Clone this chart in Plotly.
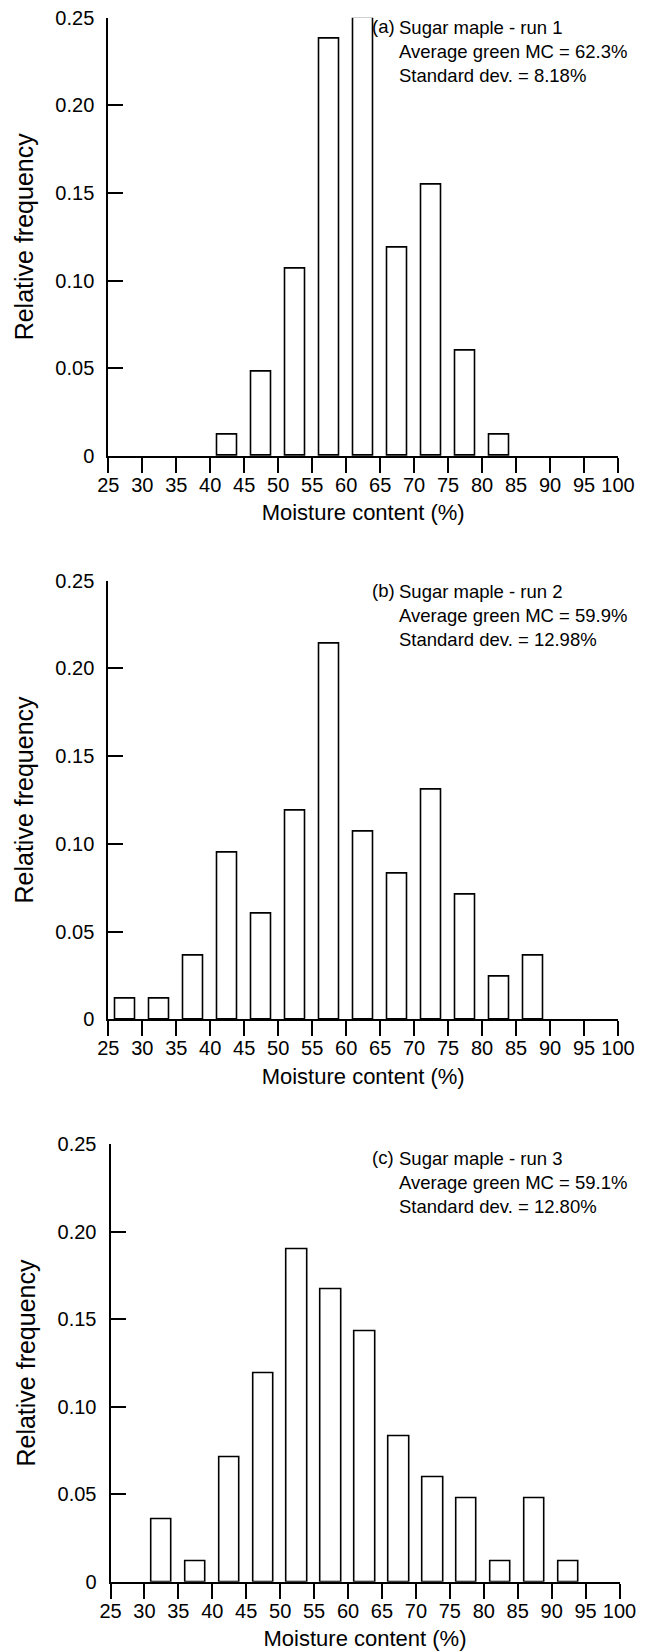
import plotly.graph_objects as go
from plotly.subplots import make_subplots

# Bin centres (moisture content, %)
bin_centers = [27.5, 32.5, 37.5, 42.5, 47.5, 52.5, 57.5, 62.5, 67.5, 72.5, 77.5, 82.5, 87.5, 92.5, 97.5]

# Relative frequencies
run1 = [0, 0, 0, 0.012, 0.048, 0.107, 0.238, 0.250, 0.119, 0.155, 0.060, 0.012, 0, 0, 0]
run2 = [0.012, 0.012, 0.036, 0.095, 0.060, 0.119, 0.214, 0.107, 0.083, 0.131, 0.071, 0.024, 0.036, 0, 0]
run3 = [0, 0.036, 0.012, 0.071, 0.119, 0.190, 0.167, 0.143, 0.083, 0.060, 0.048, 0.012, 0.048, 0.012, 0]

panel_labels = ["(a)", "(b)", "(c)"]
panel_titles = ["Sugar maple - run 1", "Sugar maple - run 2", "Sugar maple - run 3"]
avg_mc = ["62.3%", "59.9%", "59.1%"]
std_dev = ["8.18%", "12.98%", "12.80%"]

x_ticks = [25, 30, 35, 40, 45, 50, 55, 60, 65, 70, 75, 80, 85, 90, 95, 100]
y_tickvals = [0, 0.05, 0.10, 0.15, 0.20, 0.25]
y_ticktext = ["0", "0.05", "0.10", "0.15", "0.20", "0.25"]

FONT = "Liberation Sans, Arial, Helvetica, sans-serif"

fig = make_subplots(rows=3, cols=1)

runs = [run1, run2, run3]
for i, vals in enumerate(runs):
    fig.add_trace(
        go.Bar(
            x=bin_centers, y=[v if v > 0 else None for v in vals], width=3,
            marker=dict(color="white", line=dict(color="black", width=1.6)),
            cliponaxis=False,
            showlegend=False, hoverinfo="x+y",
        ),
        row=i + 1, col=1,
    )

W, H = 649, 1651
OFF = 8  # default page body margin
ml, mr, mt, mb = 60, 20, 5, 60
pw, ph = W - ml - mr, H - mt - mb

def xfrac(px_page):
    return (px_page - OFF - ml) / pw

def yfrac(py_page):
    return (H - mb - (py_page - OFF)) / ph

x_domains = [(108.3, 618.0), (108.3, 618.0), (110.5, 619.5)]
y_pix = [(17.7, 456.0), (580.7, 1019.3), (1144.3, 1581.8)]

for i in range(3):
    xa = "xaxis" if i == 0 else f"xaxis{i+1}"
    ya = "yaxis" if i == 0 else f"yaxis{i+1}"
    fig.layout[xa].update(
        domain=[xfrac(x_domains[i][0]), xfrac(x_domains[i][1])],
        range=[25, 100], tickvals=x_ticks,
        showline=True, linecolor="black", linewidth=2,
        ticks="outside", ticklen=15, tickwidth=1.5, tickcolor="black",
        showgrid=False, zeroline=False,
        ticklabelstandoff=-5,
        tickfont=dict(family=FONT, size=20, color="black"),
        title=dict(text="Moisture content (%)", font=dict(family=FONT, size=22, color="black"), standoff=10),
        automargin=False,
    )
    fig.layout[ya].update(
        domain=[yfrac(y_pix[i][1]), yfrac(y_pix[i][0])],
        range=[0, 0.25], tickvals=y_tickvals, ticktext=y_ticktext,
        showline=True, linecolor="black", linewidth=2,
        ticks="inside", ticklen=15, tickwidth=1.5, tickcolor="black",
        showgrid=False, zeroline=False,
        ticklabelstandoff=8, ticklabeloverflow="allow",
        tickfont=dict(family=FONT, size=20, color="black"),
        title=dict(text="Relative frequency", font=dict(family=FONT, size=25, color="black"), standoff=15),
        automargin=False,
    )

# Panel annotations (page coordinates)
label_y = [26.7, 590.2, 1157.3]
for i in range(3):
    fig.add_annotation(
        x=xfrac(369.5), y=yfrac(label_y[i]), xref="paper", yref="paper",
        text=panel_labels[i], showarrow=False, xanchor="left", yanchor="middle",
        font=dict(family=FONT, size=18.5, color="black"),
    )
    fig.add_annotation(
        x=xfrac(396.5), y=yfrac(label_y[i] - 11.5), xref="paper", yref="paper",
        text=f"{panel_titles[i]}<br>Average green MC = {avg_mc[i]}<br>Standard dev. = {std_dev[i]}",
        showarrow=False, xanchor="left", yanchor="top", align="left",
        font=dict(family=FONT, size=18.5, color="black"),
    )

fig.update_layout(
    width=W, height=H,
    margin=dict(l=ml, r=mr, t=mt, b=mb),
    plot_bgcolor="white", paper_bgcolor="white",
    bargap=0, showlegend=False,
)

fig.write_html("out.html")
